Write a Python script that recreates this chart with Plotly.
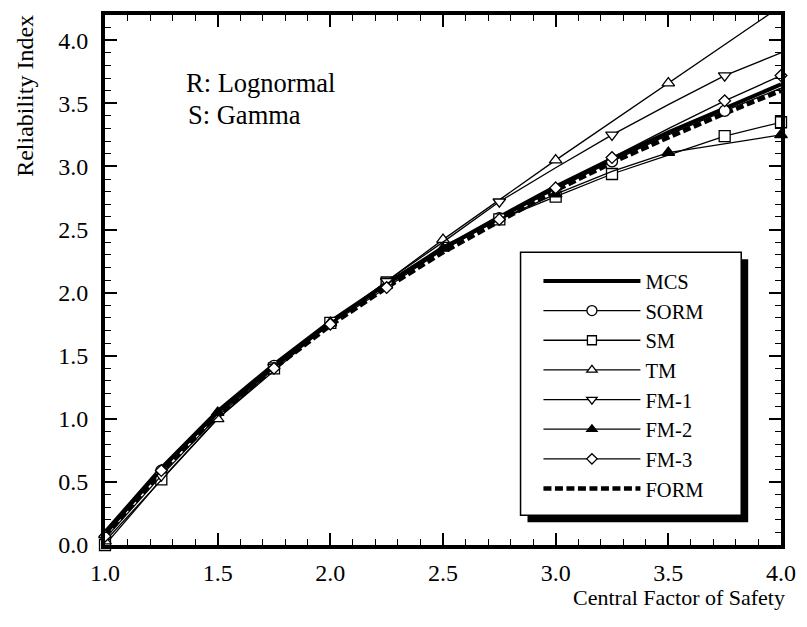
import plotly.graph_objects as go

# ---------------- data ----------------
X = [1.0, 1.25, 1.5, 1.75, 2.0, 2.25, 2.5, 2.75, 3.0, 3.25, 3.5, 3.75, 4.0]
X_TM = [1.0, 1.5, 2.0, 2.5, 3.0, 3.5, 4.0]

MCS = [0.10, 0.61, 1.06, 1.43, 1.77, 2.07, 2.35, 2.60, 2.84, 3.06, 3.27, 3.46, 3.65]
SORM = [0.08, 0.59, 1.05, 1.42, 1.76, 2.06, 2.34, 2.59, 2.82, 3.04, 3.25, 3.44, 3.62]
SM = [0.00, 0.52, 1.00, 1.40, 1.76, 2.08, 2.37, 2.58, 2.76, 2.94, 3.09, 3.24, 3.35]
TM = [0.03, 1.00, 1.76, 2.42, 3.05, 3.66, 4.27]
FM1 = [0.05, 0.55, 1.02, 1.41, 1.76, 2.09, 2.40, 2.72, 2.99, 3.25, 3.49, 3.72, 3.90]
FM2 = [0.08, 0.60, 1.05, 1.42, 1.76, 2.07, 2.35, 2.58, 2.78, 2.96, 3.11, 3.18, 3.25]
FM3 = [0.07, 0.59, 1.04, 1.40, 1.75, 2.04, 2.34, 2.58, 2.83, 3.07, 3.30, 3.52, 3.72]
FORM = [0.07, 0.58, 1.03, 1.40, 1.74, 2.04, 2.32, 2.57, 2.81, 3.03, 3.23, 3.42, 3.60]

LEGEND_NAMES = ["MCS", "SORM", "SM", "TM", "FM-1", "FM-2", "FM-3", "FORM"]
X_TICKS = [1.0, 1.5, 2.0, 2.5, 3.0, 3.5, 4.0]
Y_TICKS = [0.0, 0.5, 1.0, 1.5, 2.0, 2.5, 3.0, 3.5, 4.0]

FONT = "Liberation Serif, Times New Roman, serif"
THIN = 1.3

# marker visibility patterns (style only)
odd = [1 if i % 2 == 1 else 0 for i in range(len(X))]
even = [1 if i % 2 == 0 else 0 for i in range(len(X))]
skip_half = [0 if x in (1.5, 2.5, 3.5) else 1 for x in X]

fig = go.Figure()

# legend-only entries
styles = {
    "MCS": dict(mode="lines", line=dict(color="black", width=4)),
    "SORM": dict(mode="lines+markers", line=dict(color="black", width=THIN),
                 marker=dict(symbol="circle", size=10, color="white", line=dict(color="black", width=THIN))),
    "SM": dict(mode="lines+markers", line=dict(color="black", width=THIN),
               marker=dict(symbol="square", size=9, color="white", line=dict(color="black", width=THIN))),
    "TM": dict(mode="lines+markers", line=dict(color="black", width=THIN),
               marker=dict(symbol="triangle-up", size=9, color="white", line=dict(color="black", width=THIN))),
    "FM-1": dict(mode="lines+markers", line=dict(color="black", width=THIN),
                 marker=dict(symbol="triangle-down", size=9, color="white", line=dict(color="black", width=THIN))),
    "FM-2": dict(mode="lines+markers", line=dict(color="black", width=THIN),
                 marker=dict(symbol="triangle-up", size=9, color="black", line=dict(color="black", width=THIN))),
    "FM-3": dict(mode="lines+markers", line=dict(color="black", width=THIN),
                 marker=dict(symbol="diamond", size=8, color="white", line=dict(color="black", width=THIN))),
    "FORM": dict(mode="lines", line=dict(color="black", width=4.5, dash="8px,3.5px")),
}
for nm in LEGEND_NAMES:
    fig.add_trace(go.Scatter(x=[None], y=[None], name=nm, showlegend=True, **styles[nm]))


def series(xs, ys, symbol, fill, show, size=11, clip=False):
    fig.add_trace(go.Scatter(
        x=xs, y=ys, mode="lines+markers", showlegend=False, cliponaxis=clip,
        line=dict(color="black", width=THIN),
        marker=dict(symbol=symbol, size=size, color=fill, opacity=show,
                    line=dict(color="black", width=THIN)),
    ))


# main data traces
fig.add_trace(go.Scatter(x=X, y=MCS, mode="lines", showlegend=False,
                         line=dict(color="black", width=4)))
fig.add_trace(go.Scatter(x=X, y=FORM, mode="lines", showlegend=False,
                         line=dict(color="black", width=4.5, dash="8px,3.5px")))
series(X, SORM, "circle", "white", odd, size=11)
series(X, SM, "square", "white", skip_half, size=11)
series(X_TM, TM, "triangle-up", "white", [1] * len(X_TM), size=11, clip=True)
series(X, FM1, "triangle-down", "white", odd, size=11)
series(X, FM2, "triangle-up", "black", even, size=11)
series(X, FM3, "diamond", "white", skip_half, size=9)

axis_common = dict(
    showline=True, linecolor="black", linewidth=4, mirror="allticks",
    ticks="inside", ticklen=12, tickwidth=1.5, tickcolor="black",
    showgrid=False, zeroline=False, tickformat=".1f",
    tickfont=dict(family=FONT, size=24, color="black"),
    minor=dict(ticks="inside", ticklen=6, tickwidth=1.2, tickcolor="black", dtick=0.1, showgrid=False),
)

fig.update_xaxes(range=[1.0, 4.0], tickvals=X_TICKS, ticklabelstandoff=3, **axis_common)
fig.update_yaxes(range=[0.0, 4.2], tickvals=Y_TICKS, ticklabelstandoff=8, **axis_common)

W, H = 807, 627
L, R, T, B = 105, 22, 11, 82
pw, ph = W - L - R, H - T - B


def px(xp):
    return (xp - L) / pw


def py(yp):
    return (H - B - yp) / ph


# legend frame with shadow
fig.add_shape(type="rect", xref="paper", yref="paper",
              x0=px(530), x1=px(752), y0=py(522), y1=py(257),
              fillcolor="black", line=dict(width=0), layer="above")
fig.add_shape(type="rect", xref="paper", yref="paper",
              x0=px(523), x1=px(745), y0=py(515), y1=py(250),
              fillcolor="white", line=dict(color="black", width=1.5), layer="above")

fig.update_layout(
    width=W, height=H,
    margin=dict(l=L, r=R, t=T, b=B),
    paper_bgcolor="white", plot_bgcolor="white",
    showlegend=True,
    legend=dict(
        x=px(541), y=py(259), xanchor="left", yanchor="top",
        bgcolor="rgba(0,0,0,0)", borderwidth=0,
        font=dict(family=FONT, size=20.5, color="black"),
        itemwidth=97, tracegroupgap=0,
    ),
    annotations=[
        dict(text="R: Lognormal", x=px(184), y=py(80), xref="paper", yref="paper",
             xanchor="left", yanchor="middle", showarrow=False,
             font=dict(family=FONT, size=26.5, color="black")),
        dict(text="S: Gamma", x=px(186), y=py(112), xref="paper", yref="paper",
             xanchor="left", yanchor="middle", showarrow=False,
             font=dict(family=FONT, size=26.5, color="black")),
        dict(text="Central Factor of Safety", x=1.0, y=py(598), xref="paper", yref="paper",
             xanchor="right", yanchor="middle", showarrow=False, xshift=6,
             font=dict(family=FONT, size=22, color="black")),
        dict(text="Reliability Index", x=px(25), y=py(92), xref="paper", yref="paper",
             xanchor="center", yanchor="middle", showarrow=False, textangle=-90,
             font=dict(family=FONT, size=24, color="black")),
    ],
)

fig.write_html("out.html")
